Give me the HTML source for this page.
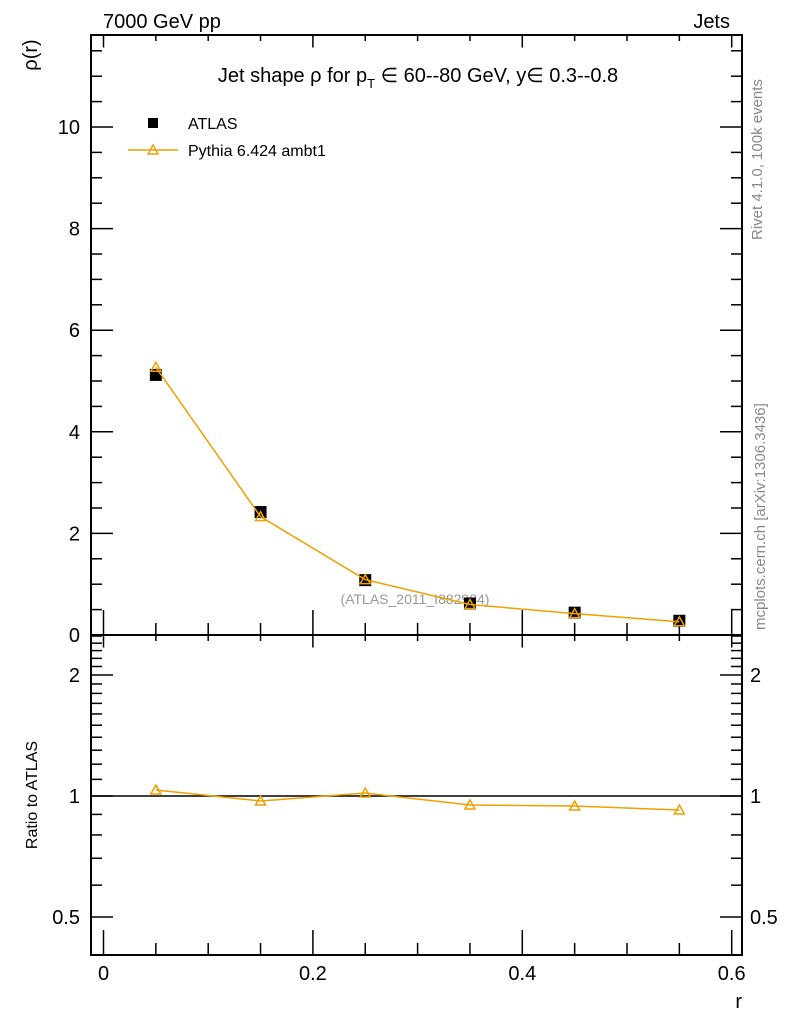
<!DOCTYPE html>
<html><head><meta charset="utf-8"><style>body{margin:0;background:#fff}svg{display:block}text{font-family:"Liberation Sans",sans-serif}</style></head>
<body>
<svg id="c" width="786" height="1024" xmlns="http://www.w3.org/2000/svg"></svg>
<script>
const rValues=[0.05,0.15,0.25,0.35,0.45,0.55];
const atlasValues=[5.12,2.42,1.08,0.62,0.44,0.28];
const pythiaValues=[5.27,2.33,1.09,0.60,0.42,0.26];
const ratioValues=[1.035,0.972,1.017,0.95,0.944,0.923];
const yTicks=[0,2,4,6,8,10];
const xTicks=[0,0.2,0.4,0.6];
const ratioTicks=[0.5,1,2];
const svg=document.getElementById('c');
const NS='http://www.w3.org/2000/svg';
const L=91,R=742,T=35,M=635,B=955;
const X=v=>103.5+v*1047;
const Y=v=>635-v*50.8;
const YR=v=>796-Math.log2(v)*121;
function el(tag,attrs,name,txt){const e=document.createElementNS(NS,tag);for(const k in attrs)e.setAttribute(k,attrs[k]);


if(txt!==undefined)e.textContent=txt;svg.appendChild(e);return e;}
el('rect',{x:L,y:T,width:R-L,height:M-T,fill:'none',stroke:'#000','stroke-width':2},'main-frame');
el('rect',{x:L,y:M,width:R-L,height:B-M,fill:'none',stroke:'#000','stroke-width':2},'ratio-frame');
// x ticks
for(let i=0;i<=12;i++){const v=i*0.05;const x=X(v);if(x>R)break;const maj=i%4==0;const len=maj?25:12;
el('line',{x1:x,y1:M,x2:x,y2:M-len,stroke:'#000','stroke-width':1.5},'x-tick');
el('line',{x1:x,y1:T,x2:x,y2:T+len/2,stroke:'#000','stroke-width':1.5},'x-tick-top');
el('line',{x1:x,y1:B,x2:x,y2:B-len,stroke:'#000','stroke-width':1.5},'x-tick-ratio');
el('line',{x1:x,y1:M,x2:x,y2:M+len/2,stroke:'#000','stroke-width':1.5},'x-tick-ratio-top');}
xTicks.forEach(v=>el('text',{x:X(v),y:980,'font-size':20,'text-anchor':'middle'},'x-tick-label',String(v)));
el('text',{x:742,y:1008,'font-size':20,'text-anchor':'end'},'x-axis-title','r');
// y ticks main
for(let i=0;i<=23;i++){const v=i*0.5;const y=Y(v);if(y<T)break;const maj=i%4==0;const len=maj?22:11;
el('line',{x1:L,y1:y,x2:L+len,y2:y,stroke:'#000','stroke-width':1.5},'y-tick');
el('line',{x1:R,y1:y,x2:R-len,y2:y,stroke:'#000','stroke-width':1.5},'y-tick-right');}
yTicks.forEach(v=>el('text',{x:80,y:Y(v)+7,'font-size':20,'text-anchor':'end'},'y-tick-label',String(v)));
el('text',{x:37,y:55,'font-size':20,'text-anchor':'middle',transform:'rotate(-90 37 55)'},'y-axis-title','ρ(r)');
// ratio ticks
[0.4,0.5,0.6,0.7,0.8,0.9,1,1.1,1.2,1.3,1.4,1.5,1.6,1.7,1.8,1.9,2,2.1,2.2,2.3,2.4,2.5].forEach(v=>{const y=YR(v);if(y<M||y>B)return;const maj=[0.5,1,2].includes(v);const len=maj?22:11;
el('line',{x1:L,y1:y,x2:L+len,y2:y,stroke:'#000','stroke-width':1.5},'ratio-tick');
el('line',{x1:R,y1:y,x2:R-len,y2:y,stroke:'#000','stroke-width':1.5},'ratio-tick-right');});
ratioTicks.forEach(v=>{el('text',{x:80,y:YR(v)+7,'font-size':20,'text-anchor':'end'},'ratio-tick-label',String(v));
el('text',{x:750,y:YR(v)+7,'font-size':20},'ratio-tick-label-right',String(v));});
el('text',{x:37,y:795,'font-size':16,'text-anchor':'middle',transform:'rotate(-90 37 795)'},'ratio-axis-title','Ratio to ATLAS');
el('line',{x1:L,y1:YR(1),x2:R,y2:YR(1),stroke:'#000','stroke-width':1.5},'ratio-unity-line');
// headers
el('text',{x:103,y:28,'font-size':20},'header-left','7000 GeV pp');
el('text',{x:730,y:28,'font-size':20,'text-anchor':'end'},'header-right','Jets');
const tt=el('text',{x:418,y:82,'font-size':20,'text-anchor':'middle'},'plot-title');
const t1=document.createElementNS(NS,'tspan');t1.textContent='Jet shape ρ for p';tt.appendChild(t1);
const t2=document.createElementNS(NS,'tspan');t2.textContent='T';t2.setAttribute('font-size','13');t2.setAttribute('dy','6');tt.appendChild(t2);
const t3=document.createElementNS(NS,'tspan');t3.textContent=' ∈ 60--80 GeV, y∈ 0.3--0.8';t3.setAttribute('dy','-6');tt.appendChild(t3);
el('text',{x:415,y:604,'font-size':14,fill:'#999','text-anchor':'middle'},'analysis-label','(ATLAS_2011_I882984)');
el('text',{x:762,y:240,'font-size':15,fill:'#888',transform:'rotate(-90 762 240)'},'rivet-label','Rivet 4.1.0,  100k events');
el('text',{x:765,y:630,'font-size':15,fill:'#888',transform:'rotate(-90 765 630)'},'mcplots-label','mcplots.cern.ch [arXiv:1306.3436]');
// legend
el('rect',{x:148,y:118,width:10,height:10,fill:'#000'},'legend-atlas-marker');
el('text',{x:188,y:129,'font-size':16},'legend-atlas-label','ATLAS');
el('line',{x1:128,y1:150,x2:178,y2:150,stroke:'#f0a000','stroke-width':1.5},'legend-pythia-line');
el('polygon',{points:'153,145 158,154 148,154',fill:'none',stroke:'#f0a000','stroke-width':1.5},'legend-pythia-marker');
el('text',{x:188,y:156,'font-size':16},'legend-pythia-label','Pythia 6.424 ambt1');
// data
atlasValues.forEach((v,i)=>el('rect',{x:X(rValues[i])-6,y:Y(v)-6,width:12,height:12,fill:'#000'},'atlas-point'));
el('polyline',{points:rValues.map((r,i)=>X(r)+','+Y(pythiaValues[i])).join(' '),fill:'none',stroke:'#f0a000','stroke-width':1.5},'pythia-line');
pythiaValues.forEach((v,i)=>{const x=X(rValues[i]),y=Y(v);el('polygon',{points:`${x},${y-5} ${x+5},${y+4} ${x-5},${y+4}`,fill:'none',stroke:'#f0a000','stroke-width':1.5},'pythia-point');});
el('polyline',{points:rValues.map((r,i)=>X(r)+','+YR(ratioValues[i])).join(' '),fill:'none',stroke:'#f0a000','stroke-width':1.5},'ratio-line');
ratioValues.forEach((v,i)=>{const x=X(rValues[i]),y=YR(v);el('polygon',{points:`${x},${y-5} ${x+5},${y+4} ${x-5},${y+4}`,fill:'none',stroke:'#f0a000','stroke-width':1.5},'ratio-point');});
</script>
</body></html>
